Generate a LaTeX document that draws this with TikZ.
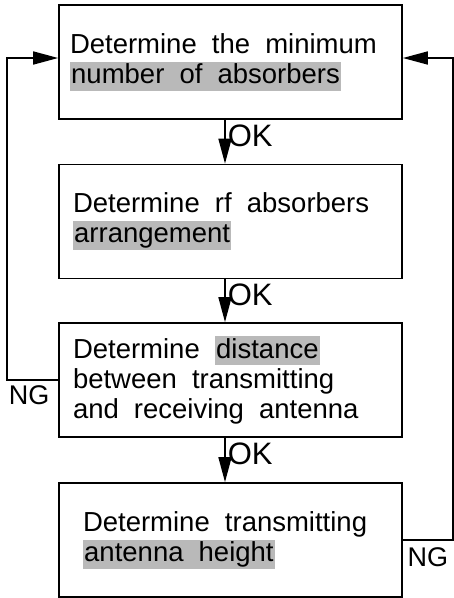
\documentclass[tikz,border=0pt]{standalone}
\usepackage{fontspec}
\setmainfont{Liberation Sans}
\usetikzlibrary{arrows.meta}

% grey screen behind a word group
\newcommand{\hilite}[1]{{\setlength{\fboxsep}{1.2pt}\colorbox{gray!55}{\vrule height 20.5pt depth 6pt width 0pt #1}}}

\tikzset{
  stepbox/.style={draw, line width=1.7pt, minimum width=343pt, minimum height=114pt,
    align=left, text width=343pt-2*#1, inner xsep=#1, inner ysep=0pt,
    font=\fontsize{27.5}{30}\selectfont,
    execute at begin node={\spaceskip=0.55em plus 0.1em\relax}},
  stepbox/.default=12pt,
  arr/.style={line width=1.7pt, -{Triangle[length=25pt,width=13pt]}},
  lbl/.style={font=\fontsize{27}{28}\selectfont, inner sep=1pt},
  oklbl/.style={font=\fontsize{31}{32}\selectfont, inner sep=0pt, anchor=north west,
    xshift=2pt, yshift=-4pt}
}

\begin{document}
\begin{tikzpicture}[x=1pt, y=-1pt]
\useasboundingbox (0,0) rectangle (454,598);

\node[stepbox=11pt] (b1) at (230.5,62) {Determine the minimum\\\hilite{number of absorbers}};
\node[stepbox=14pt] (b2) at (230.5,221.5) {Determine rf absorbers\\\hilite{arrangement}};
\node[stepbox=14pt] (b3) at (230.5,380) {Determine \hilite{distance}\\between transmitting\\and receiving antenna};
\node[stepbox=24pt] (b4) at (230.5,540) {Determine transmitting\\\hilite{antenna height}};

% OK path
\draw[arr] ([xshift=-5.5pt]b1.south) -- ([xshift=-5.5pt]b2.north)
  node[oklbl, pos=0] {OK};
\draw[arr] ([xshift=-5.5pt]b2.south) -- ([xshift=-5.5pt]b3.north)
  node[oklbl, pos=0] {OK};
\draw[arr] ([xshift=-5.5pt]b3.south) -- ([xshift=-5.5pt]b4.north)
  node[oklbl, pos=0] {OK};

% NG loops back to the top
\draw[arr] (b3.west) -- ++(-51,0) node[lbl, below right, yshift=-4pt] {NG}
  |- ([yshift=4pt]b1.west);
\draw[arr] (b4.east) -- ++(50,0) node[lbl, midway, below, yshift=-6pt] {NG}
  |- ([yshift=4pt]b1.east);

\end{tikzpicture}
\end{document}
